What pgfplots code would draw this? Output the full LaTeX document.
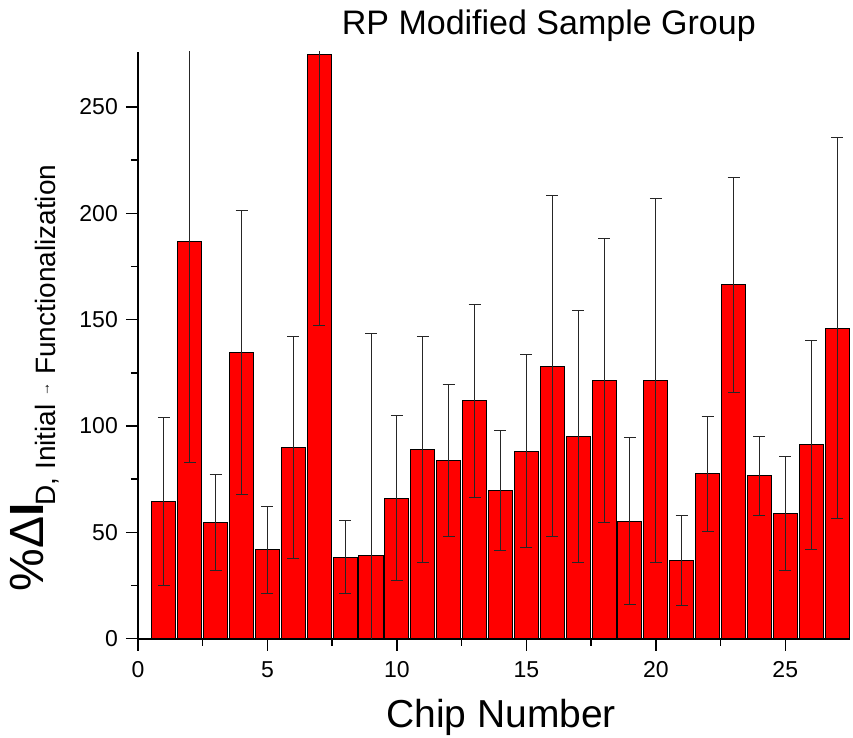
\documentclass[border=0pt]{standalone}
\usepackage{pgfplots}
\pgfplotsset{compat=1.18}
\usepackage{pgfplotstable}
\usepackage{fontspec}
\setmainfont{Liberation Sans}
\pgfplotstableread{
x y e
1 64.7 39.5
2 186.8 103.9
3 54.7 22.4
4 134.6 66.7
5 41.8 20.3
6 90.1 52.2
7 274.5 127.0
8 38.4 17.0
9 39.3 104.2
10 66.0 38.8
11 89.0 53.3
12 84.0 35.7
13 111.8 45.4
14 69.7 28.1
15 88.2 45.5
16 128.2 80.2
17 95.1 59.4
18 121.4 66.9
19 55.3 39.2
20 121.4 85.7
21 36.8 21.0
22 77.5 27.0
23 166.4 50.7
24 76.5 18.7
25 58.9 26.9
26 91.2 49.2
27 146.0 89.5
}\datatable
\begin{document}
\begin{tikzpicture}
\begin{axis}[
  at={(138pt,98.3pt)}, anchor=south west,
  scale only axis, width=712pt, height=587pt,
  xmin=0, xmax=27.5, ymin=0, ymax=276,
  axis x line*=bottom, axis y line*=left,
  axis line style={-, line width=1.6pt},
  xtick={0,5,...,25}, ytick={0,50,...,250},
  minor x tick num=1, minor y tick num=1,
  tick align=outside,
  major tick length=12pt, minor tick length=7pt,
  every tick/.style={black, line width=1.5pt},
  tick label style={font=\fontsize{23}{27}\selectfont},
  /pgf/number format/assume math mode=true,
  xticklabel style={anchor=north, inner sep=0pt, yshift=-11pt},
  yticklabel style={anchor=east, inner sep=0pt, xshift=-8pt},
  title={RP Modified Sample Group},
  title style={at={(0.577,1.0199)}, anchor=base, inner sep=0pt, font=\fontsize{34}{40}\selectfont},
  xlabel={Chip Number},
  xlabel style={at={(0.51,-0.1521)}, anchor=base, inner sep=0pt, font=\fontsize{39}{45}\selectfont},
  ylabel={{\fontsize{48}{50}\selectfont \%Δ\textbf{I}}\kern-2pt\raisebox{-12pt}{\fontsize{28}{30}\selectfont D, Initial \raisebox{6pt}{\fontsize{14}{15}\selectfont →} Functionalization}},
  every axis y label/.style={at={(axis description cs:-0.145,0.444)}, rotate=90, anchor=center, inner sep=0pt},
]
\addplot[ybar, bar width=0.93, fill=red, draw=black, line width=1pt,
  error bars/.cd, y dir=both, y explicit,
  error bar style={line width=0.9pt, black!85},
  error mark options={rotate=90, line width=0.9pt, mark size=6pt, black!85}]
  table[x=x, y=y, y error=e] {\datatable};
\end{axis}
\pgfresetboundingbox
\path[use as bounding box] (0,0) rectangle (853pt,737pt);
\end{tikzpicture}
\end{document}
